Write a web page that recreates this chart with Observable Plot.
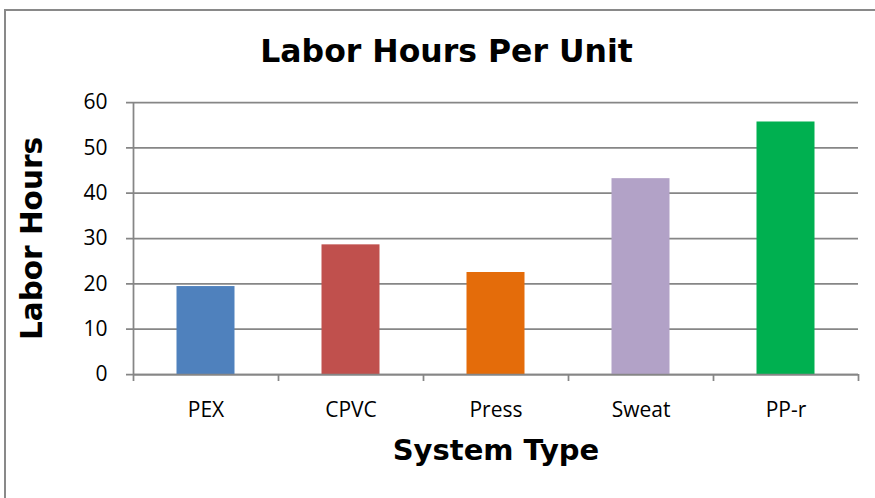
<!DOCTYPE html>
<html>
<head>
<meta charset="utf-8">
<script src="https://cdn.jsdelivr.net/npm/d3@7"></script>
<script src="https://cdn.jsdelivr.net/npm/@observablehq/plot@0.6"></script>
<style>
  html, body { margin: 0; padding: 0; background: #fff; overflow: hidden; }
  #wrap { position: relative; width: 875px; height: 498px; overflow: hidden; }
  #border { position: absolute; left: 4px; top: 9px; width: 920px; height: 600px; border: 2px solid #898989; box-sizing: border-box; }
  #chart { position: absolute; left: 0; top: 0; }
</style>
</head>
<body>
<div id="wrap"><div id="border"></div><div id="chart"></div></div>
<script>
const categories = ["PEX", "CPVC", "Press", "Sweat", "PP-r"];
const values = [19.4, 28.6, 22.5, 43.2, 55.7];
const colors = ["#4F81BD", "#C0504D", "#E46C0A", "#B2A2C7", "#00B050"];
const yTicks = [0, 10, 20, 30, 40, 50, 60];
const xBoundaries = [0, 1, 2, 3, 4, 5];
const title = ["Labor Hours Per Unit"];
const yLabel = ["Labor Hours"];
const xLabel = ["System Type"];

const data = categories.map((c, i) => ({c, i, v: values[i], color: colors[i]}));

const W = 875, H = 498, mT = 102, mB = 124, mL = 133, mR = 17;
const pxPerY = (H - mT - mB) / 60;
const pxPerX = (W - mL - mR) / 5;
const tickLen = 7;
const grid = "#868686";
const tickFont = "'Open Sans', sans-serif";
const boldFont = "'DejaVu Sans', Verdana, sans-serif";

const chart = Plot.plot({
  width: W, height: H,
  marginTop: mT, marginBottom: mB, marginLeft: mL, marginRight: mR,
  x: {domain: [0, 5], axis: null},
  y: {domain: [0, 60], axis: null},
  color: {type: "identity"},
  style: {background: "transparent", overflow: "visible"},
  marks: [
    Plot.ruleY(yTicks, {y: d => d, x1: -tickLen / pxPerX, x2: 5, stroke: grid, strokeWidth: 1.75}),
    Plot.rectY(data, {x1: d => d.i + 0.3, x2: d => d.i + 0.7, y1: 0, y2: "v", fill: "color"}),
    Plot.ruleX([0], {x: d => d, y1: 0, y2: 60, stroke: grid, strokeWidth: 1.75}),
    Plot.ruleX(xBoundaries, {x: d => d, y1: 0, y2: -tickLen / pxPerY, stroke: grid, strokeWidth: 1.75}),
    Plot.ruleY([0], {y: d => d, x1: 0, x2: 5, stroke: grid, strokeWidth: 1.75}),
    Plot.text(yTicks, {x: 0, y: d => d, text: d => String(d), textAnchor: "end", lineAnchor: "middle", dx: -26, fontSize: 21, fontFamily: tickFont, fill: "#000"}),
    Plot.text(data, {x: d => d.i + 0.5, y: 0, text: "c", textAnchor: "middle", lineAnchor: "middle", dy: 36, fontSize: 21, fontFamily: tickFont, fill: "#000"}),
    Plot.text(title, {frameAnchor: "top", text: d => d, textAnchor: "middle", lineAnchor: "middle", dx: -49.5, dy: -51, fontSize: 31.5, fontWeight: "bold", fontFamily: boldFont, fill: "#000"}),
    Plot.text(yLabel, {frameAnchor: "left", text: d => d, textAnchor: "middle", lineAnchor: "middle", rotate: -90, dx: -101, fontSize: 29.5, fontWeight: "bold", fontFamily: boldFont, fill: "#000"}),
    Plot.text(xLabel, {frameAnchor: "bottom", text: d => d, textAnchor: "middle", lineAnchor: "middle", dy: 76, fontSize: 29, fontWeight: "bold", fontFamily: boldFont, fill: "#000"})
  ]
});
document.getElementById("chart").appendChild(chart);
</script>
</body>
</html>
